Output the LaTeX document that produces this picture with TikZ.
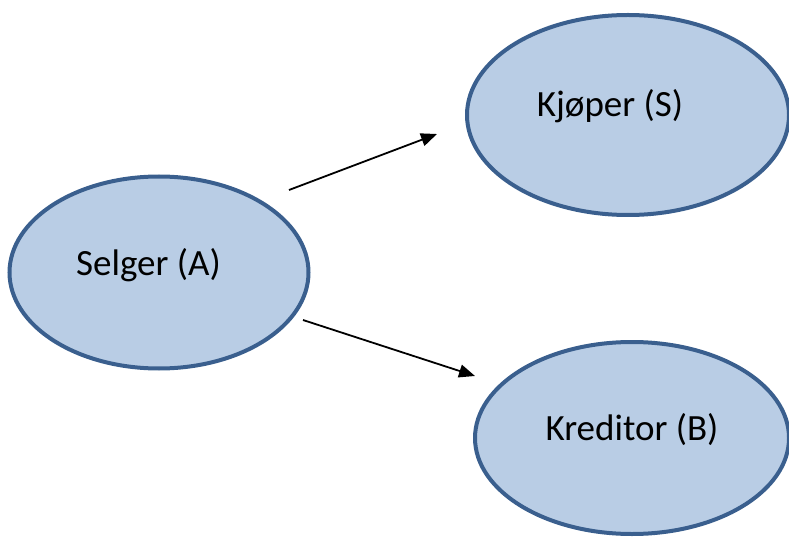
\documentclass[tikz,border=0pt]{standalone}
\usepackage{fontspec}
\setmainfont{Carlito}
\usetikzlibrary{shapes.geometric,arrows.meta}
\definecolor{efill}{HTML}{B9CDE5}
\definecolor{eline}{HTML}{3A5F8E}
\begin{document}
\begin{tikzpicture}[x=1pt,y=1pt,
  oval/.style={ellipse,draw=eline,fill=efill,line width=4pt,inner sep=0pt},
  lbl/.style={anchor=base,font=\fontsize{37}{40}\selectfont,inner sep=0pt},
  arr/.style={line width=1.8pt,-{Triangle[length=16pt,width=13pt]}}]
\useasboundingbox (0,0) rectangle (789,536);
\clip (0,0) rectangle (789,536);
\node[oval,minimum width=299pt,minimum height=192pt] (sel) at (159,263.5) {};
\node[oval,minimum width=322pt,minimum height=200pt] (kjo) at (628,421) {};
\node[oval,minimum width=314pt,minimum height=192pt] (kre) at (632,98) {};
\node[lbl] (selT) at (148.5,261) {Selger (A)};
\node[lbl] (kjoT) at (610,419) {Kjøper (S)};
\node[lbl] (kreT) at (632,96) {Kreditor (B)};
\coordinate (a1s) at (289,346);
\coordinate (a1e) at (437,402);
\coordinate (a2s) at (303,216);
\coordinate (a2e) at (475,160);
\draw[arr] (a1s) -- (a1e);
\draw[arr] (a2s) -- (a2e);
\end{tikzpicture}
\end{document}
